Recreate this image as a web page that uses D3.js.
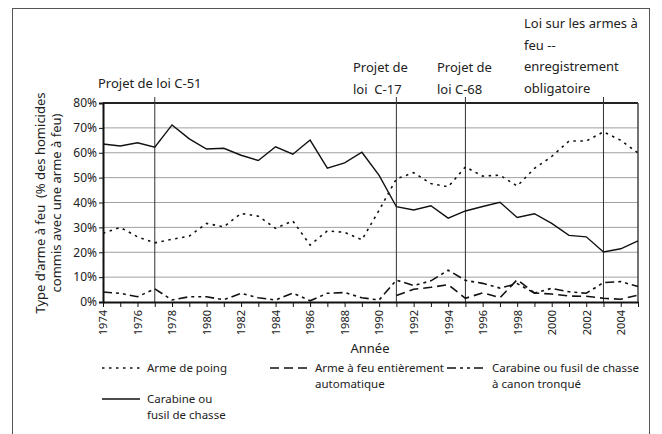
<!DOCTYPE html>
<html>
<head>
<meta charset="utf-8">
<script src="https://cdn.jsdelivr.net/npm/d3@7"></script>
<style>
  body { margin: 0; background: #fff; }
  svg text { font-family: "Noto Sans", "Open Sans", sans-serif; fill: #222; white-space: pre; }
</style>
</head>
<body>
<div id="chart"></div>
<script>
var years = d3.range(1974, 2006);

// % des homicides commis avec une arme a feu
var poing = [27.6, 30, 26.2, 23.8, 25.2, 26.5, 31.6, 30.2, 35.6, 34.5, 29.6, 32.6, 22.9, 28.6, 28, 25,
  36.9, 49.5, 52, 47.6, 46.3, 54.3, 50.6, 51, 46.6, 53.7, 58.5, 64.7, 64.7, 68.4, 65, 59.9];
var automatique = [null, null, null, null, null, null, null, null, null, null, null, null, null, null, null, null, null,
  2.6, 5.1, 5.9, 7.0, 1.5, 3.7, 1.7, 9.0, 3.6, 3.2, 2.4, 2.3, 1.5, 1.1, 2.8];
var tronque = [4.0, 3.5, 2.1, 5.3, 0.8, 2.1, 2.1, 0.9, 3.5, 1.7, 0.8, 3.6, 0.5, 3.5, 3.8, 1.7, 0.8,
  8.8, 6.6, 8.5, 12.8, 8.7, 7.5, 5.6, 7.4, 3.6, 5.5, 4.1, 3.5, 7.8, 8.2, 6.2];
var carabine = [63.5, 62.7, 64, 62.2, 71.2, 65.6, 61.5, 61.8, 59, 56.9, 62.4, 59.4, 65.1, 53.8, 55.9, 60.2,
  50.9, 38.3, 37, 38.7, 33.7, 36.6, 38.4, 40.1, 34, 35.5, 31.6, 26.8, 26.2, 20.1, 21.4, 24.6];

var yTicks = [0, 10, 20, 30, 40, 50, 60, 70, 80];
var yearLabels = d3.range(1974, 2005, 2);

var events = [1977, 1991, 1995, 2003];
var eventText = [
  ["Projet de loi C-51"],
  ["Projet de", "loi  C-17"],
  ["Projet de", "loi C-68"],
  ["Loi sur les armes à", "feu --", "enregistrement", "obligatoire"]
];

var w = 662, h = 434;
var svg = d3.select("#chart").append("svg")
    .attr("width", w)
    .attr("height", h);

// outer frame
svg.append("rect")
    .attr("x", 12.5).attr("y", 8.5)
    .attr("width", 637).attr("height", 440)
    .attr("fill", "none")
    .attr("stroke", "#555")
    .attr("stroke-width", 1);

var x = d3.scaleLinear().domain([1974, 2005]).range([103, 638]);
var y = d3.scaleLinear().domain([0, 80]).range([302, 103]);

// gridlines
svg.append("g").selectAll("line")
    .data(yTicks.filter(function(d) { return d > 0 && d < 80; }))
    .enter().append("line")
    .attr("x1", x(1974)).attr("x2", x(2005))
    .attr("y1", function(d) { return y(d); })
    .attr("y2", function(d) { return y(d); })
    .attr("stroke", "#a0a0a0")
    .attr("stroke-width", 1);

// plot box (top + right)
svg.append("line")
    .attr("x1", x(1974)).attr("x2", x(2005))
    .attr("y1", y(80)).attr("y2", y(80))
    .attr("stroke", "#222").attr("stroke-width", 2);
svg.append("line")
    .attr("x1", x(2005)).attr("x2", x(2005))
    .attr("y1", y(80)).attr("y2", y(0))
    .attr("stroke", "#444").attr("stroke-width", 1.5);

// event lines
svg.append("g").selectAll("line")
    .data(events)
    .enter().append("line")
    .attr("x1", function(d) { return x(d); })
    .attr("x2", function(d) { return x(d); })
    .attr("y1", 97).attr("y2", y(0))
    .attr("stroke", "#333")
    .attr("stroke-width", 1);

// y axis
var yAxis = d3.axisLeft(y)
    .tickValues(yTicks)
    .tickFormat(function(d) { return d + "%"; })
    .tickSize(4)
    .tickPadding(2);
var gy = svg.append("g")
    .attr("transform", "translate(" + x(1974) + ",0)")
    .call(yAxis);
gy.select(".domain").attr("stroke", "#111").attr("stroke-width", 2);
gy.selectAll(".tick line").attr("stroke", "#111");
gy.selectAll("text").style("font-size", "12px").attr("fill", "#222");

// x axis
var xAxis = d3.axisBottom(x)
    .tickValues(years)
    .tickFormat(function(d) { return yearLabels.indexOf(d) >= 0 ? d : ""; })
    .tickSize(5)
    .tickSizeOuter(0);
var gx = svg.append("g")
    .attr("transform", "translate(0," + y(0) + ")")
    .call(xAxis);
gx.select(".domain").attr("stroke", "#111").attr("stroke-width", 2);
gx.selectAll(".tick line").attr("stroke", "#111");
gx.selectAll("text")
    .style("font-size", "11px")
    .attr("fill", "#222")
    .attr("transform", "rotate(-90)")
    .attr("text-anchor", "end")
    .attr("x", -8)
    .attr("y", 0)
    .attr("dy", "0.35em");

// series
var series = [
  { values: poing, dash: "2.5,4.5", width: 1.6 },
  { values: automatique, dash: "9,5", width: 1.6 },
  { values: tronque, dash: "9,4,3,4,3,4", width: 1.6 },
  { values: carabine, dash: null, width: 1.4 }
];

var line = d3.line()
    .defined(function(d) { return d[1] != null; })
    .x(function(d) { return x(d[0]); })
    .y(function(d) { return y(d[1]); });

svg.append("g").selectAll("path")
    .data(series)
    .enter().append("path")
    .attr("d", function(s) { return line(years.map(function(yr, i) { return [yr, s.values[i]]; })); })
    .attr("fill", "none")
    .attr("stroke", "#111")
    .attr("stroke-width", function(s) { return s.width; })
    .attr("stroke-dasharray", function(s) { return s.dash; });

// event labels
var labelPos = [[98, 88], [353, 72], [437, 72], [524, 28]];
eventText.forEach(function(lines, i) {
  var t = svg.append("text")
      .attr("x", labelPos[i][0])
      .attr("y", labelPos[i][1])
      .style("font-size", "13px");
  lines.forEach(function(s, j) {
    t.append("tspan")
        .attr("x", labelPos[i][0])
        .attr("dy", j == 0 ? 0 : 21.5)
        .text(s);
  });
});

// axis titles
svg.append("text")
    .attr("x", 370).attr("y", 353)
    .attr("text-anchor", "middle")
    .style("font-size", "13px")
    .text("Année");

var yt = svg.append("text")
    .attr("transform", "translate(45,203) rotate(-90)")
    .attr("text-anchor", "middle")
    .style("font-size", "13px");
yt.append("tspan").attr("x", 0).attr("dy", 0).text("Type d'arme à feu  (% des homicides");
yt.append("tspan").attr("x", 0).attr("dy", 16).text("commis avec une arme à feu)");

// legend
var legend = [
  { sx: 102, sy: 368, dash: "2.5,4.5", label: ["Arme de poing"] },
  { sx: 270, sy: 368, dash: "9,5", label: ["Arme à feu entièrement", "automatique"] },
  { sx: 447, sy: 368, dash: "9,4,3,4,3,4", label: ["Carabine ou fusil de chasse", "à canon tronqué"] },
  { sx: 102, sy: 399, dash: null, label: ["Carabine ou", "fusil de chasse"] }
];
var lg = svg.append("g").selectAll("g")
    .data(legend)
    .enter().append("g");
lg.append("line")
    .attr("x1", function(d) { return d.sx; })
    .attr("x2", function(d) { return d.sx + 38; })
    .attr("y1", function(d) { return d.sy; })
    .attr("y2", function(d) { return d.sy; })
    .attr("stroke", "#111")
    .attr("stroke-width", 1.6)
    .attr("stroke-dasharray", function(d) { return d.dash; });
lg.append("text")
    .style("font-size", "11.5px")
    .attr("y", function(d) { return d.sy + 4; })
    .each(function(d) {
      var t = d3.select(this);
      d.label.forEach(function(s, j) {
        t.append("tspan")
            .attr("x", d.sx + 45)
            .attr("dy", j == 0 ? 0 : 16)
            .text(s);
      });
    });
</script>
</body>
</html>
